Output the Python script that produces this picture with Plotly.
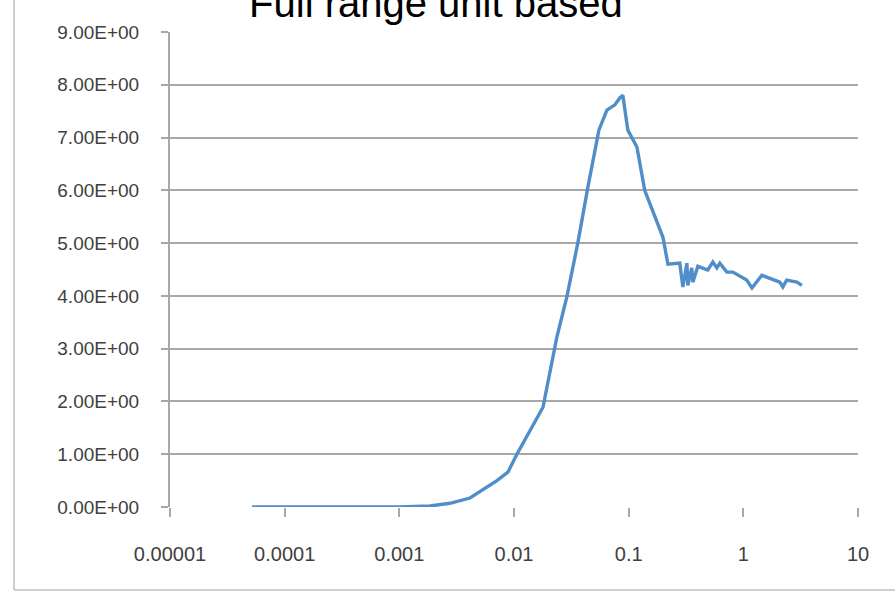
import plotly.graph_objects as go

# Data
x_vals = [5.2e-5, 1.36e-4, 3.7e-4, 1.01e-3, 1.85e-3, 2.76e-3, 4.13e-3, 5.36e-3, 7.1e-3, 8.85e-3,
          0.0106, 0.0179, 0.0237, 0.0289, 0.0360, 0.0441, 0.0550, 0.0646, 0.0758, 0.0838,
          0.0889, 0.0984, 0.118, 0.138, 0.199, 0.220, 0.279, 0.297, 0.322, 0.328,
          0.355, 0.363, 0.401, 0.490, 0.542, 0.588, 0.624, 0.718, 0.810, 1.07,
          1.19, 1.45, 2.08, 2.21, 2.39, 2.93, 3.24]
y_vals = [0.0, 0.0, 0.0, 0.0, 0.02, 0.07, 0.17, 0.32, 0.5, 0.66,
          1.0, 1.89, 3.23, 3.98, 5.0, 6.06, 7.14, 7.52, 7.62, 7.75,
          7.8, 7.14, 6.82, 6.0, 5.11, 4.6, 4.62, 4.17, 4.62, 4.2,
          4.53, 4.26, 4.56, 4.49, 4.64, 4.53, 4.62, 4.45, 4.45, 4.3,
          4.15, 4.39, 4.26, 4.17, 4.3, 4.26, 4.2]

x_tick_vals = [1e-5, 1e-4, 1e-3, 1e-2, 1e-1, 1, 10]
x_tick_text = ["0.00001", "0.0001", "0.001", "0.01", "0.1", "1", "10"]
y_tick_vals = [0, 1, 2, 3, 4, 5, 6, 7, 8, 9]
y_tick_text = ["%.2fE+00" % v for v in y_tick_vals]

title_text = "Full range unit based"

fig = go.Figure()
fig.add_trace(go.Scatter(x=x_vals, y=y_vals, mode="lines",
                         line=dict(color="#4f8ec9", width=3.4), showlegend=False))

grid_col = "#a8a8a8"
lab_col = "#404040"
fig.update_layout(
    width=895, height=592,
    margin=dict(l=170, r=37, t=32, b=85),
    paper_bgcolor="white", plot_bgcolor="white",
    font=dict(family="Liberation Sans, Arial, sans-serif", color=lab_col),
    title=dict(text=title_text, x=0.487, xanchor="center", y=0.995, yanchor="middle",
               font=dict(size=40, color="black", family="Liberation Sans, Arial, sans-serif")),
    xaxis=dict(type="log", range=[-5, 1], tickvals=x_tick_vals, ticktext=x_tick_text,
               showgrid=False, zeroline=False, showline=False,
               ticks="outside", ticklen=9, tickwidth=2, tickcolor=grid_col,
               ticklabelstandoff=20, tickfont=dict(size=20, color=lab_col)),
    yaxis=dict(range=[0, 9], tickvals=y_tick_vals, ticktext=y_tick_text,
               showgrid=True, gridcolor=grid_col, gridwidth=2, zeroline=False,
               showline=True, linecolor=grid_col, linewidth=2,
               ticks="outside", ticklen=7, tickwidth=2, tickcolor=grid_col,
               ticklabelstandoff=18, tickfont=dict(size=19, color=lab_col)),
    shapes=[
        dict(type="line", xref="paper", yref="paper", x0=-0.2267, x1=-0.2267, y0=-0.1747, y1=1.2,
             line=dict(color="#cfcfcf", width=2)),
        dict(type="line", xref="paper", yref="paper", x0=-0.2267, x1=1.1, y0=-0.1747, y1=-0.1747,
             line=dict(color="#cfcfcf", width=2)),
    ],
)

fig.write_html("out.html")
